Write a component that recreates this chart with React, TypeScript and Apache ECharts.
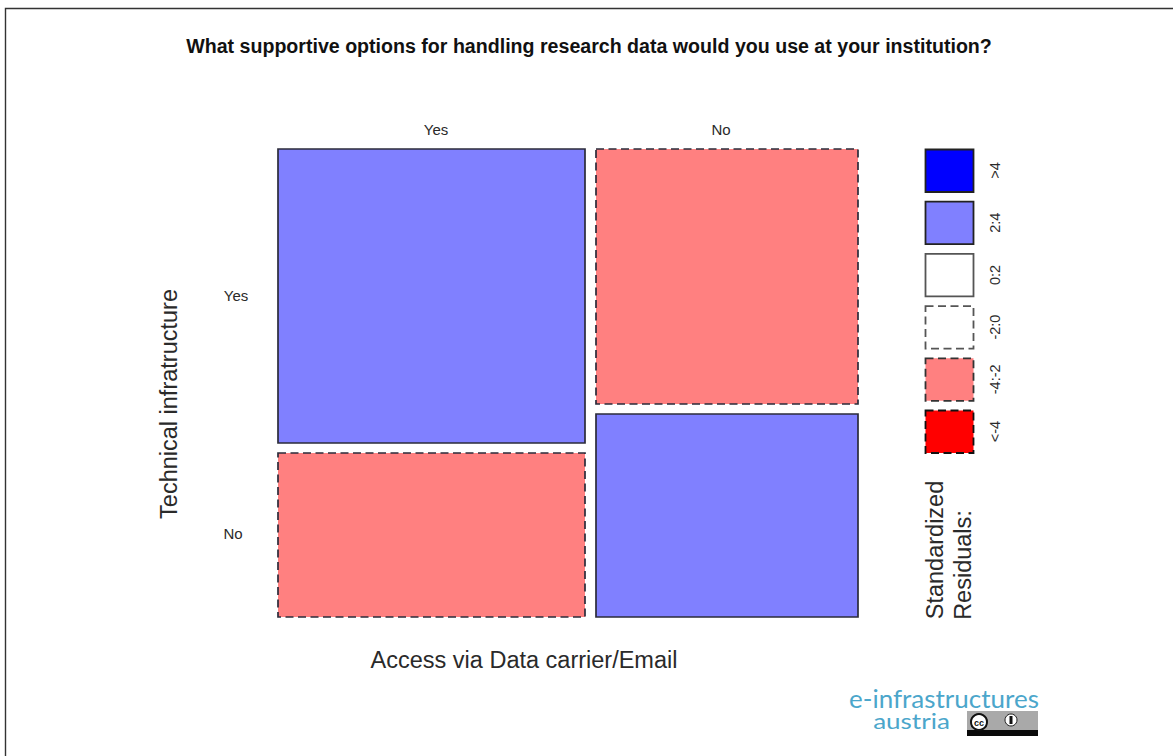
import React, { useEffect, useRef } from "react";
import * as echarts from "echarts";

const title = "What supportive options for handling research data would you use at your institution?";
const columnNames = ["Yes", "No"];
const rowNames = ["Yes", "No"];
const xTitle = "Access via Data carrier/Email";
const yTitle = "Technical infratructure";
const columnWidths = [307, 262];
const yesColumnRows = [294, 164];
const noColumnRows = [255, 203];
const legendLabels = [">4", "2:4", "0:2", "-2:0", "-4:-2", "<-4"];
const legendFills = ["#0000ff", "#8080ff", "#ffffff", "#ffffff", "#ff8080", "#ff0000"];
const legendDashed = [false, false, false, true, true, true];
const legendBorder = ["#222", "#222", "#555", "#555", "#333", "#111"];
const BLUE = "#8080ff";
const RED = "#ff8080";
const LINE = "#2b2b3a";

const GAP_X = 11;
const GAP_Y = 10;

// [x start, x end, y start, y end, fill, dashed]
function cells() {
  const [w0, w1] = columnWidths;
  const [a, b] = yesColumnRows;
  const [c, d] = noColumnRows;
  const x1 = w0 + GAP_X;
  return [
    [0, w0, b + GAP_Y, a + b + GAP_Y, BLUE, 0],
    [0, w0, 0, b, RED, 1],
    [x1, x1 + w1, d + GAP_Y, c + d + GAP_Y, RED, 1],
    [x1, x1 + w1, 0, d, BLUE, 0],
  ];
}

export default function App() {
  const ref = useRef<HTMLDivElement>(null);
  useEffect(() => {
    if (!ref.current) return;
    const chart = echarts.init(ref.current, undefined, { renderer: "svg" });
    const xMax = columnWidths[0] + columnWidths[1] + GAP_X;
    const yMax = yesColumnRows[0] + yesColumnRows[1] + GAP_Y;
    const label = (x: number, y: number, text: string, size: number, extra: any = {}) => {
      const { fill, weight, family, ...transform } = extra;
      return {
        type: "text",
        x,
        y,
        silent: true,
        ...transform,
        style: {
          text,
          fill: fill || "#2a2a2a",
          font: `${weight || "normal"} ${size}px ${family || '"Liberation Sans", Arial, sans-serif'}`,
          textAlign: "center",
          textVerticalAlign: "middle",
        },
      };
    };
    const rotLabel = (x: number, y: number, text: string, size: number) =>
      label(x, y, text, size, { rotation: Math.PI / 2 });

    const legend = legendLabels.flatMap((t, i) => {
      const top = 149.5 + i * 52.2;
      return [
        {
          type: "rect",
          silent: true,
          shape: { x: 925.5, y: top, width: 48, height: 42.5 },
          style: {
            fill: legendFills[i],
            stroke: legendBorder[i],
            lineWidth: 1.8,
            lineDash: legendDashed[i] ? [8, 4.5] : undefined,
          },
        },
        rotLabel(995, top + 21, t, 14.5),
      ];
    });

    const logo = [
      label(944, 698, "e-infrastructures", 25.5, { fill: "#4ba6cb", family: "Lato, sans-serif", scaleX: 1.02 }),
      label(911.5, 721.5, "austria", 21, { fill: "#4ba6cb", family: "Lato, sans-serif", scaleX: 1.24 }),
      {
        type: "rect",
        silent: true,
        shape: { x: 967, y: 711, width: 71, height: 25 },
        style: { fill: "#a9a9a9" },
      },
      {
        type: "rect",
        silent: true,
        shape: { x: 967, y: 730, width: 71, height: 6 },
        style: { fill: "#0a0a0a" },
      },
      {
        type: "circle",
        silent: true,
        shape: { cx: 979, cy: 722, r: 8 },
        style: { fill: "#fff", stroke: "#111", lineWidth: 2 },
      },
      label(979, 722.5, "cc", 9, { weight: "bold", fill: "#111" }),
      {
        type: "circle",
        silent: true,
        shape: { cx: 1011, cy: 720, r: 6 },
        style: { fill: "#fff", stroke: "#222", lineWidth: 1 },
      },
      {
        type: "rect",
        silent: true,
        shape: { x: 1009.5, y: 716, width: 3, height: 8 },
        style: { fill: "#111" },
      },
    ];

    chart.setOption({
      animation: false,
      backgroundColor: "#ffffff",
      grid: { left: 278, top: 149, width: 580, height: 468, containLabel: false },
      xAxis: { type: "value", min: 0, max: xMax, show: false },
      yAxis: { type: "value", min: 0, max: yMax, show: false },
      series: [
        {
          type: "custom",
          coordinateSystem: "cartesian2d",
          silent: true,
          clip: false,
          data: cells(),
          renderItem: (params: any, api: any) => {
            const p0 = api.coord([api.value(0), api.value(2)]);
            const p1 = api.coord([api.value(1), api.value(3)]);
            const d = cells()[params.dataIndex];
            return {
              type: "rect",
              shape: { x: p0[0], y: p1[1], width: p1[0] - p0[0], height: p0[1] - p1[1] },
              style: {
                fill: d[4] as string,
                stroke: LINE,
                lineWidth: 1.7,
                lineDash: d[5] ? [8, 4.5] : undefined,
              },
            };
          },
        },
      ],
      graphic: [
        {
          type: "rect",
          silent: true,
          shape: { x: 5.5, y: 8.5, width: 1400, height: 1000 },
          style: { fill: "none", stroke: "#333", lineWidth: 1.4 },
        },
        label(589, 46, title, 19.6, { weight: "bold", fill: "#111" }),
        label(436, 129, columnNames[0], 15),
        label(721, 129, columnNames[1], 15),
        label(236, 295, rowNames[0], 15),
        label(233, 533, rowNames[1], 15),
        label(524, 660, xTitle, 23.5),
        rotLabel(169, 404, yTitle, 23.5),
        rotLabel(935, 550, "Standardized", 23.5),
        rotLabel(963, 565, "Residuals:", 23.5),
        ...legend,
        ...logo,
      ],
    });
    return () => chart.dispose();
  }, []);
  return <div ref={ref} style={{ position: "fixed", left: 0, top: 0, width: 1173, height: 756 }} />;
}
